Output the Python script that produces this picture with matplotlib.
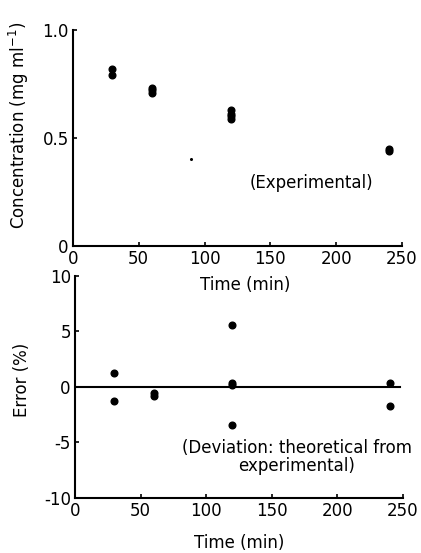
import matplotlib
matplotlib.use("Agg")
import matplotlib.pyplot as plt

# concentration (experimental)
t_conc = [30, 30, 60, 60, 60, 120, 120, 120, 120, 240, 240]
conc = [0.82, 0.79, 0.73, 0.72, 0.71, 0.63, 0.61, 0.60, 0.59, 0.45, 0.44]

# error (%) - deviation theoretical from experimental
t_err = [30, 30, 60, 60, 120, 120, 120, 120, 240, 240]
err = [1.3, -1.3, -0.5, -0.8, 5.6, 0.35, 0.2, -3.45, 0.4, -1.7]

xticks = [0, 50, 100, 150, 200, 250]

plt.rcParams['font.family'] = ['DejaVu Sans']
plt.rcParams['font.size'] = 12

fig = plt.figure(figsize=(4.21, 5.53), dpi=100)
ax1 = fig.add_axes([0.173, 0.555, 0.782, 0.391])
ax2 = fig.add_axes([0.178, 0.0995, 0.779, 0.4015])

for ax in (ax1, ax2):
    ax.spines['top'].set_visible(False)
    ax.spines['right'].set_visible(False)
    ax.spines['left'].set_linewidth(1.5)
    ax.spines['bottom'].set_linewidth(1.5)
    ax.tick_params(direction='in', length=3, width=1.2, pad=3)
    ax.set_xlim(0, 250)
    ax.set_xticks(xticks)

# top panel
ax1.plot(t_conc, conc, 'o', color='black', ms=4.8)
ax1.plot([90], [0.405], 'o', color='black', ms=1.2)
ax1.set_ylim(0, 1.0)
ax1.set_yticks([0, 0.5, 1.0])
ax1.set_yticklabels(['0', '0.5', '1.0'])
ax1.set_ylabel('Concentration (mg ml$^{-1}$)')
ax1.yaxis.set_label_coords(-0.128, 0.56)
ax1.text(134, 0.29, '(Experimental)', va='center', ha='left')
fig.text(0.582, 0.485, 'Time (min)', ha='center', va='center')

# bottom panel
ax2.axhline(0, color='black', lw=1.5, xmin=0, xmax=0.99)
ax2.plot(t_err, err, 'o', color='black', ms=4.8)
ax2.set_ylim(-10, 10)
ax2.set_yticks([10, 5, 0, -5, -10])
ax2.set_yticklabels(['10', '5', '0', '-5', '-10'])
ax2.set_ylabel('Error (%)')
ax2.yaxis.set_label_coords(-0.135, 0.53)
ax2.text(169, -6.3, '(Deviation: theoretical from\nexperimental)',
         ha='center', va='center', linespacing=1.0, clip_on=False)
ax2.set_xlabel('Time (min)', labelpad=10)

fig.savefig('out.png', dpi=100)
